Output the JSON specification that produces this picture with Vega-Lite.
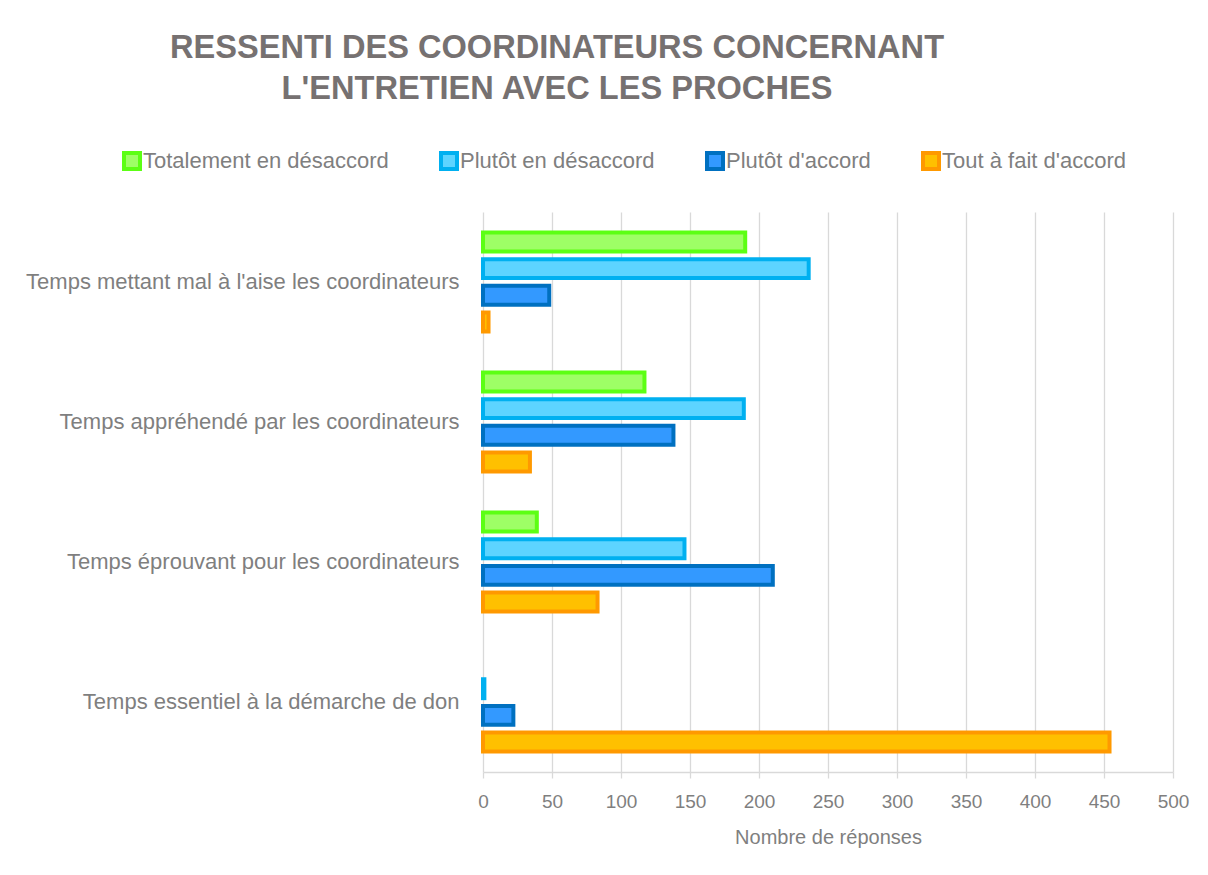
{
  "$schema": "https://vega.github.io/schema/vega-lite/v6.json",
  "width": 690,
  "height": 560,
  "autosize": {"type": "none"},
  "padding": {"left": 483, "top": 212, "right": 35, "bottom": 103},
  "background": "white",
  "config": {
    "font": "Liberation Sans",
    "view": {"stroke": null}
  },
  "title": {
    "text": ["RESSENTI DES COORDINATEURS CONCERNANT", "L'ENTRETIEN AVEC LES PROCHES"],
    "font": "Liberation Sans",
    "fontSize": 32.6,
    "fontWeight": "bold",
    "color": "#767171",
    "lineHeight": 41,
    "anchor": "middle",
    "frame": "group",
    "dx": -271,
    "offset": 44
  },
  "data": {
    "values": [
      {"categorie": "Temps mettant mal à l'aise les coordinateurs", "reponse": "Totalement en désaccord", "value": 190},
      {"categorie": "Temps mettant mal à l'aise les coordinateurs", "reponse": "Plutôt en désaccord", "value": 236},
      {"categorie": "Temps mettant mal à l'aise les coordinateurs", "reponse": "Plutôt d'accord", "value": 48},
      {"categorie": "Temps mettant mal à l'aise les coordinateurs", "reponse": "Tout à fait d'accord", "value": 4},
      {"categorie": "Temps appréhendé par les coordinateurs", "reponse": "Totalement en désaccord", "value": 117},
      {"categorie": "Temps appréhendé par les coordinateurs", "reponse": "Plutôt en désaccord", "value": 189},
      {"categorie": "Temps appréhendé par les coordinateurs", "reponse": "Plutôt d'accord", "value": 138},
      {"categorie": "Temps appréhendé par les coordinateurs", "reponse": "Tout à fait d'accord", "value": 34},
      {"categorie": "Temps éprouvant pour les coordinateurs", "reponse": "Totalement en désaccord", "value": 39},
      {"categorie": "Temps éprouvant pour les coordinateurs", "reponse": "Plutôt en désaccord", "value": 146},
      {"categorie": "Temps éprouvant pour les coordinateurs", "reponse": "Plutôt d'accord", "value": 210},
      {"categorie": "Temps éprouvant pour les coordinateurs", "reponse": "Tout à fait d'accord", "value": 83},
      {"categorie": "Temps essentiel à la démarche de don", "reponse": "Totalement en désaccord", "value": 0},
      {"categorie": "Temps essentiel à la démarche de don", "reponse": "Plutôt en désaccord", "value": 1},
      {"categorie": "Temps essentiel à la démarche de don", "reponse": "Plutôt d'accord", "value": 22},
      {"categorie": "Temps essentiel à la démarche de don", "reponse": "Tout à fait d'accord", "value": 454}
    ]
  },
  "mark": {"type": "bar", "strokeWidth": 4},
  "encoding": {
    "y": {
      "field": "categorie",
      "type": "nominal",
      "sort": null,
      "scale": {"paddingInner": 0.293, "paddingOuter": 0.146},
      "axis": {
        "title": null,
        "domain": false,
        "ticks": false,
        "labelFont": "Liberation Sans",
        "labelFontSize": 22,
        "labelColor": "#7F7F7F",
        "labelPadding": 24,
        "labelLimit": 500
      }
    },
    "yOffset": {
      "field": "reponse",
      "type": "nominal",
      "sort": ["Totalement en désaccord", "Plutôt en désaccord", "Plutôt d'accord", "Tout à fait d'accord"],
      "scale": {"paddingInner": 0.29, "paddingOuter": 0}
    },
    "x": {
      "field": "value",
      "type": "quantitative",
      "scale": {"domain": [0, 500], "nice": false},
      "axis": {
        "title": "Nombre de réponses",
        "titleFont": "Liberation Sans",
        "titleFontSize": 20,
        "titleFontWeight": "normal",
        "titleColor": "#7F7F7F",
        "titlePadding": 16,
        "values": [0, 50, 100, 150, 200, 250, 300, 350, 400, 450, 500],
        "labelFont": "Liberation Sans",
        "labelFontSize": 19,
        "labelColor": "#7F7F7F",
        "labelPadding": 14,
        "labelFlush": false,
        "grid": true,
        "gridColor": "#D9D9D9",
        "gridWidth": 1.3,
        "domainColor": "#D9D9D9",
        "domainWidth": 1.3,
        "tickColor": "#D9D9D9",
        "tickWidth": 1.3,
        "tickSize": 6
      }
    },
    "color": {
      "field": "reponse",
      "type": "nominal",
      "scale": {
        "domain": ["Totalement en désaccord", "Plutôt en désaccord", "Plutôt d'accord", "Tout à fait d'accord"],
        "range": ["#9EFF66", "#5DD4FF", "#3399FF", "#FFC000"]
      },
      "legend": {
        "title": null,
        "orient": "none",
        "legendX": -362,
        "legendY": -62,
        "direction": "horizontal",
        "columns": 4,
        "columnPadding": 44,
        "symbolType": "square",
        "symbolSize": 256,
        "symbolStrokeWidth": 4,
        "symbolOffset": 0,
        "labelOffset": 0,
        "labelFont": "Liberation Sans",
        "labelFontSize": 22,
        "labelColor": "#7F7F7F",
        "labelLimit": 400
      }
    },
    "stroke": {
      "field": "reponse",
      "type": "nominal",
      "scale": {
        "domain": ["Totalement en désaccord", "Plutôt en désaccord", "Plutôt d'accord", "Tout à fait d'accord"],
        "range": ["#5CFF14", "#00B0F0", "#0070C0", "#FF9900"]
      }
    },
    "strokeWidth": {
      "condition": {"test": "datum.value == 0", "value": 0},
      "value": 4
    }
  }
}
